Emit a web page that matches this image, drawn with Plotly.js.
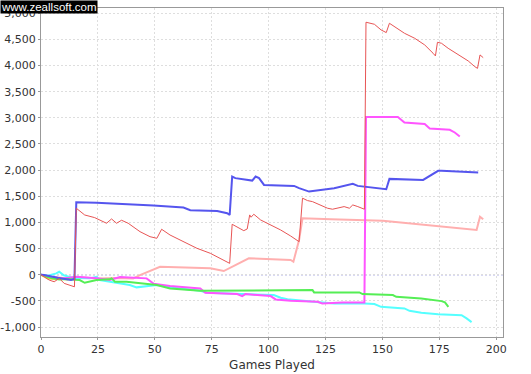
<!DOCTYPE html>
<html><head><meta charset="utf-8">
<script src="https://cdn.plot.ly/plotly-3.0.1.min.js"></script>
<style>html,body{margin:0;padding:0;background:#fff}#chart{width:531px;height:374px}</style>
</head><body><div id="chart"></div>
<script>
// Series data (game number, cumulative value)
const redX = [0,1.4,3.6,5.8,8,10.2,12.5,14.7,15.5,19.2,23.6,28.8,31,33.2,35.4,38.3,43.5,47.9,50.9,51.6,53,56.7,62.6,68.5,74.4,78.8,82.9,84,86.9,89.1,90.6,91.7,92.3,93.5,96.5,100.9,105.3,109.7,113.4,114.9,117.1,119.3,123,125.9,128.1,130.3,133.2,135.5,137,139.2,142.1,142.8,144.3,146.5,149.4,151.7,153.1,155.3,159.7,164.2,168.6,172.3,173.3,174.2,176,178.9,183.3,187.7,190.6,191.8,192.9,194.3];
const redY = [0,-38,-101,-134,-69,-165,-197,-230,1272,1143,1092,985,1067,985,1042,985,824,728,697,760,870,760,632,506,410,314,218,965,889,843,875,1144,1100,1157,1048,952,856,741,632,1464,1418,1398,1335,1272,1253,1272,1303,1272,1335,1303,1253,4828,4808,4789,4682,4630,4808,4745,4617,4521,4394,4234,4184,4444,4425,4330,4215,4088,3979,3946,4203,4151];

const blueX = [0,1.4,7.3,13.2,14.7,15.5,24.4,42,49.4,62.6,64.1,65.6,77.4,81.8,82.9,84,85.4,92.8,94.3,95.8,98,111.2,113.4,117.8,128.8,137,139.2,151.7,153.1,167.9,174.5,176,192.1];
const blueY = [0,-6,-57,-101,-82,1387,1379,1349,1322,1284,1259,1234,1220,1176,1144,1877,1847,1801,1877,1847,1718,1699,1655,1590,1655,1738,1699,1636,1833,1814,1987,1987,1954];

const pinkX = [0,4,10,16,25,33,40.5,43.5,52.3,74.4,80.3,91.3,109.7,110.9,113.4,114.9,127.4,150.2,191.4,192.9,194.3];
const pinkY = [0,-40,-60,-50,-70,-60,-69,-6,153,123,71,314,282,249,665,1080,1061,1034,856,1111,1061];

const magentaX = [0,5,10,15.5,24.4,30.2,34.7,40.5,46.4,49.4,56.7,70,72.2,86.2,88.4,89.8,100.9,103.1,109.7,121.5,123.6,132.4,142.1,142.8,156.8,159.7,168.6,170.8,179.6,181.8,184];
const magentaY = [0,-50,-70,-38,-69,-100,-45,-57,-69,-170,-216,-261,-345,-370,-408,-370,-408,-472,-498,-517,-548,-529,-529,3015,3015,2912,2881,2797,2772,2720,2644];

const greenX = [0,4,8,12,15,17,19.2,24.4,30.2,31,32.5,37.6,50.9,56.7,70,105.3,119.3,120,139.9,141.3,154.6,156.1,167.1,176,177.5,179];
const greenY = [0,-60,-90,-80,-95,-101,-153,-101,-88,-69,-134,-134,-197,-261,-306,-306,-293,-337,-337,-370,-389,-421,-452,-504,-529,-613];

const cyanX = [0,3,6.7,8,10,14,21.4,24.4,25.8,39,42,50.9,61.1,70,72.9,102.3,105.3,108.3,120,128.8,142.1,146.5,149.4,159.7,161.9,167.1,174.5,184.8,187,189.2];
const cyanY = [0,-20,27,57,-10,-60,-69,-38,-101,-197,-241,-197,-261,-306,-345,-389,-440,-470,-517,-548,-548,-561,-613,-644,-690,-728,-753,-772,-835,-905];

const yellowX = [0,3,6,9,12];
const yellowY = [0,-70,-85,-75,-90];

const xTicks = [0,25,50,75,100,125,150,175,200];
const yTickVals = [-1000,-500,0,500,1000,1500,2000,2500,3000,3500,4000,4500,5000];
const yTickText = ["-1,000","-500","0","500","1,000","1,500","2,000","2,500","3,000","3,500","4,000","4,500","5,000"];

const mk = (x, y, color, w) => ({x, y, type:'scatter', mode:'lines', line:{color, width:w}, hoverinfo:'skip', showlegend:false});
const data = [
  mk(pinkX, pinkY, '#ffafaf', 2),
  mk(cyanX, cyanY, '#55ffff', 2),
  mk(magentaX, magentaY, '#ff55ff', 2),
  mk(yellowX, yellowY, '#ffcc55', 2),
  mk(greenX, greenY, '#55ee55', 2),
  mk(blueX, blueY, '#5555ee', 2),
  mk(redX, redY, '#e85555', 1)
];

const gridCol = '#dedede';
const layout = {
  width:531, height:374,
  margin:{l:41, r:28, t:8, b:37},
  paper_bgcolor:'#ffffff', plot_bgcolor:'#ffffff',
  font:{family:'DejaVu Sans, sans-serif', size:11, color:'#333'},
  xaxis:{range:[0,203], tickvals:xTicks, ticktext:xTicks.map(String), showgrid:true, gridcolor:gridCol, griddash:'2px,2px', gridwidth:1,
    zeroline:false, showline:true, linecolor:'#999', linewidth:1, mirror:true, ticks:'outside', ticklen:2, tickcolor:'#999',
    tickfont:{size:11, color:'#333'},
    title:{text:'Games Played', font:{size:12, color:'#333'}, standoff:5}},
  yaxis:{range:[-1190,5100], tickvals:yTickVals, ticktext:yTickText, showgrid:true, gridcolor:gridCol, griddash:'2px,2px', gridwidth:1,
    zeroline:false, showline:true, linecolor:'#999', linewidth:1, mirror:true, ticks:'outside', ticklen:2, tickcolor:'#999',
    tickfont:{size:11, color:'#333'}},
  shapes:[{type:'line', xref:'paper', x0:0, x1:1, yref:'y', y0:0, y1:0, line:{color:'#6a6ad8', width:1, dash:'2px,2px'}, layer:'below'}],
  annotations:[{text:'www.zeallsoft.com', xref:'paper', yref:'paper', x:-41/462, y:1+8/329, xanchor:'left', yanchor:'top',
    showarrow:false, bgcolor:'#000000', font:{family:'Liberation Sans, Arial, sans-serif', size:11.5, color:'#ffffff'}, borderpad:0}]
};
Plotly.newPlot('chart', data, layout, {staticPlot:true, displayModeBar:false});
</script></body></html>
